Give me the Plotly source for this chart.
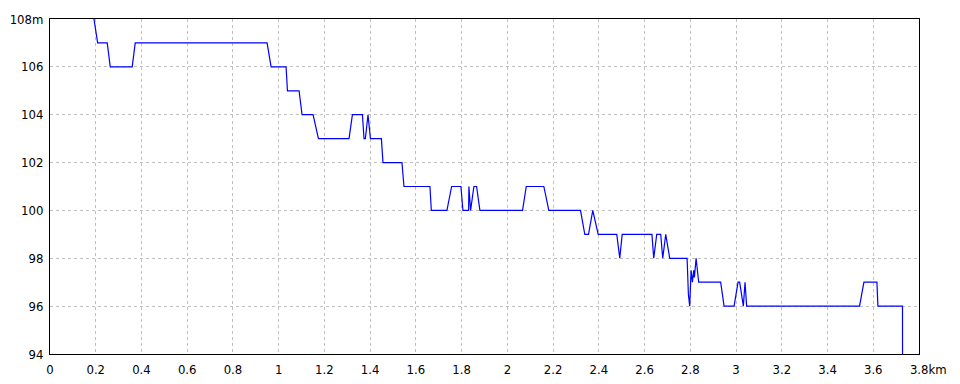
import plotly.graph_objects as go

# Elevation profile (distance in km, elevation in m)
dist_km = [
    0.176, 0.2084, 0.2503, 0.2634, 0.3595, 0.3727, 0.9493, 0.9668, 1.0323, 1.0384,
    1.0891, 1.1022, 1.1503, 1.1739, 1.3076, 1.3224, 1.3661, 1.3731, 1.3790, 1.3906,
    1.4011, 1.4491, 1.4561, 1.5391, 1.5478, 1.6614, 1.6675, 1.7357, 1.7562, 1.7969,
    1.8056, 1.8305, 1.8318, 1.8392, 1.8536, 1.8654, 1.8799, 2.0664, 2.0826, 2.1595,
    2.1813, 2.3198, 2.3386, 2.3548, 2.3735, 2.3971, 2.4784, 2.4915, 2.5020, 2.6322,
    2.6400, 2.6531, 2.6706, 2.6794, 2.6925, 2.7099, 2.7859, 2.7916, 2.7973, 2.8034,
    2.8091, 2.8148, 2.8178, 2.8253, 2.8366, 2.9327, 2.9476, 2.9913, 3.0088, 3.0157,
    3.0319, 3.0393, 3.0463, 3.5400, 3.5592, 3.6160, 3.6203, 3.7278, 3.7285,
]
elev_m = [
    109, 107, 107, 106, 106, 107, 107, 106, 106, 105,
    105, 104, 104, 103, 103, 104, 104, 103, 103, 104,
    103, 103, 102, 102, 101, 101, 100, 100, 101, 101,
    100, 100, 101, 100, 101, 101, 100, 100, 101, 101,
    100, 100, 99, 99, 100, 99, 99, 98, 99, 99,
    98, 99, 99, 98, 99, 98, 98, 96.5, 96, 97.5,
    97, 97.5, 97.2, 98, 97, 97, 96, 96, 97, 97,
    96, 97, 96, 96, 97, 97, 96, 96, 90,
]

x_ticks = [0, 0.2, 0.4, 0.6, 0.8, 1, 1.2, 1.4, 1.6, 1.8, 2, 2.2, 2.4, 2.6, 2.8, 3, 3.2, 3.4, 3.6, 3.8]
x_labels = ["0", "0.2", "0.4", "0.6", "0.8", "1", "1.2", "1.4", "1.6", "1.8", "2",
            "2.2", "2.4", "2.6", "2.8", "3", "3.2", "3.4", "3.6",
            "\u00a0\u00a0\u00a0\u00a0\u00a03.8km"]
y_ticks = [94, 96, 98, 100, 102, 104, 106, 108]
y_labels = ["94", "96", "98", "100", "102", "104", "106", "108m"]

FONT = "Liberation Sans Narrow, DejaVu Sans Condensed, Arial Narrow, sans-serif"

fig = go.Figure()
fig.add_trace(go.Scatter(
    x=dist_km, y=elev_m, mode="lines",
    line=dict(color="#0000ff", width=1.2),
    hoverinfo="skip", showlegend=False,
))

axis_common = dict(
    showline=True, linecolor="black", linewidth=1, mirror=True,
    showgrid=True, gridcolor="#c0c0c0", griddash="3px,3px", gridwidth=1,
    zeroline=False, ticks="", automargin=False,
    tickfont=dict(family=FONT, size=13, color="black"),
)
fig.update_xaxes(range=[0, 3.8], tickmode="array", tickvals=x_ticks, ticktext=x_labels,
                 ticklabelstandoff=3, **axis_common)
fig.update_yaxes(range=[94, 108], tickmode="array", tickvals=y_ticks, ticktext=y_labels,
                 ticklabelstandoff=3, **axis_common)

fig.update_layout(
    width=960, height=384,
    margin=dict(l=50, r=41, t=19, b=30),
    paper_bgcolor="white", plot_bgcolor="white",
    font=dict(family=FONT, size=13, color="black"),
)

fig.write_html("out.html")
